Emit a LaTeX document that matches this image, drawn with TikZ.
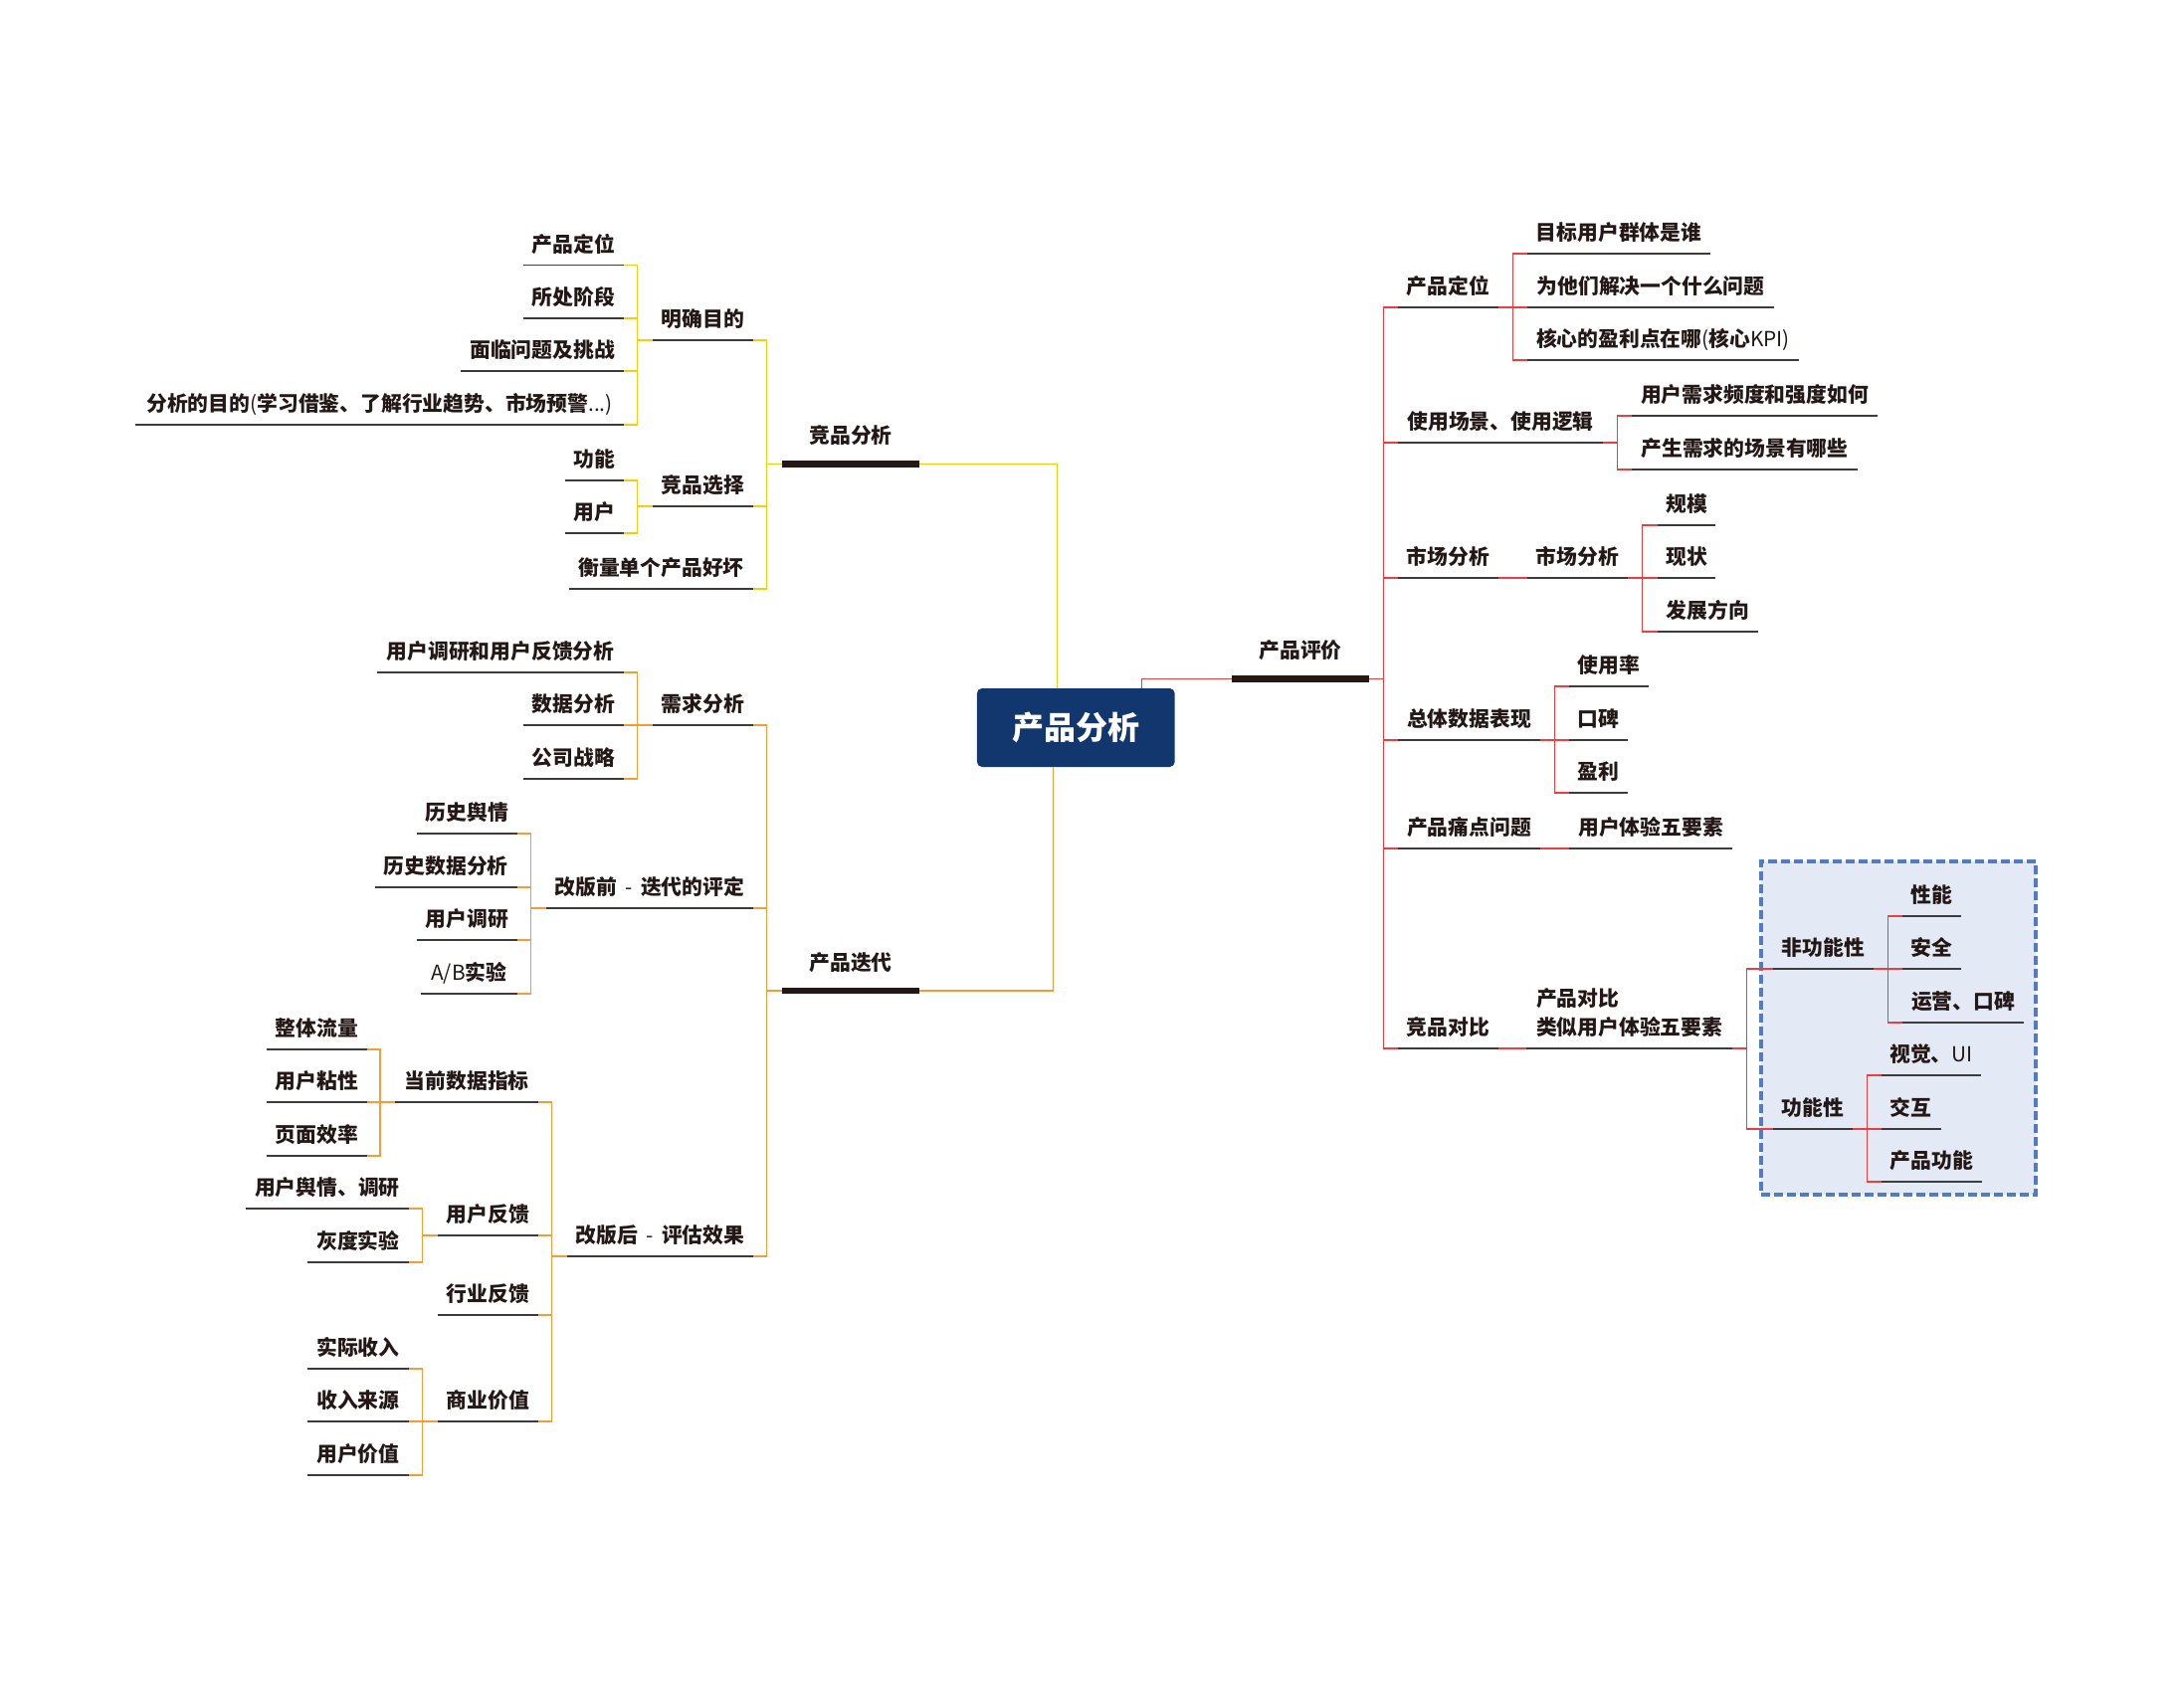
\documentclass[tikz,border=0pt]{standalone}
\usepackage{fontspec}
\setmainfont{Noto Sans CJK SC}
\definecolor{yl}{HTML}{F3CD12}
\definecolor{orc}{HTML}{F39C3A}
\definecolor{rdc}{HTML}{E8403F}
\definecolor{ulc}{HTML}{3C3C3C}
\definecolor{barc}{HTML}{231815}
\definecolor{navy}{HTML}{12376F}
\definecolor{boxfill}{HTML}{E3EAF6}
\definecolor{boxdraw}{HTML}{4F7CC3}
\definecolor{txt}{HTML}{231815}
\newcommand\tp[6][topic]{%
  \node[#1,minimum width={(#4-#3)*0.5pt}] (#2) at ({(#3+#4)/2},#5) {#6};}
\newcommand\lc[3]{\draw[#1] (#2.south east) -| ([xshift=-7.5pt]#3.south west) -- (#3.south west);}
\newcommand\rc[3]{\draw[#1] (#2.south east) -- ([xshift=7pt]#2.south east) |- (#3.south west);}
\newcommand\lt[1]{{\mdseries #1}}
\newcommand\dsh{\hspace{0.4em}\lt{-}\hspace{0.4em}}
\begin{document}
\begin{tikzpicture}[x=0.5pt,y=-0.5pt,
  topic/.style={anchor=south, inner sep=0pt, text height=9.5pt, text depth=6.4pt,
    font=\fontsize{10.4pt}{12pt}\selectfont\bfseries, text=txt,
    append after command={(\tikzlastnode.south west) edge[ul] (\tikzlastnode.south east)}},
  bartopic/.style={anchor=south, inner sep=0pt, text height=9.5pt, text depth=10.2pt,
    font=\fontsize{10.4pt}{12pt}\selectfont\bfseries, text=txt,
    append after command={(\tikzlastnode.south west) edge[barline] (\tikzlastnode.south east)}},
  ul/.style={draw=ulc, line width=0.75pt},
  barline/.style={draw=barc, line width=3.35pt},
  cy/.style={draw=yl, line width=0.75pt},
  co/.style={draw=orc, line width=0.75pt},
  cr/.style={draw=rdc, line width=0.75pt},
  rootbox/.style={fill=navy, rounded corners=2.5pt, minimum width=99.35pt, minimum height=39.5pt,
    inner sep=0pt, text=white, font=\fontsize{16pt}{18pt}\selectfont\bfseries},
  groupbox/.style={draw=boxdraw, fill=boxfill, line width=1.6pt, dash pattern=on 4.5pt off 2pt,
    minimum width=138pt, minimum height=167.5pt, inner sep=0pt}
]
\fill[white] (0,0) rectangle (2195,1700);
\useasboundingbox (0,0) rectangle (2195,1700);

\node[groupbox] (grp) at (1908,1033.5) {};

\node[rootbox] (root) at (1081.3,731.5) {产品分析};

% ---- 竞品分析 (left top)
\tp[bartopic]{jp}{786}{924}{466.5}{竞品分析}
\tp{mq}{656}{757}{342}{明确目的}
\tp{a1}{526}{627}{266.3}{产品定位}
\tp{a2}{526}{627}{320}{所处阶段}
\tp{a3}{463}{627}{373}{面临问题及挑战}
\tp{a4}{136}{627}{427}{分析的目的\lt{(}学习借鉴、了解行业趋势、市场预警\lt{...)}}
\tp{jx}{656}{757}{509}{竞品选择}
\tp{b1}{568}{627}{483}{功能}
\tp{b2}{568}{627}{536}{用户}
\tp{hl}{572}{757}{592}{衡量单个产品好坏}

% ---- 产品迭代 (left bottom)
\tp[bartopic]{cd}{786}{924}{996}{产品迭代}
\tp{xq}{656}{757}{729}{需求分析}
\tp{c1}{379}{627}{676}{用户调研和用户反馈分析}
\tp{c2}{526}{627}{729}{数据分析}
\tp{c3}{526}{627}{783}{公司战略}
\tp{gq}{549}{757}{913}{改版前\dsh 迭代的评定}
\tp{d1}{419}{519.5}{838}{历史舆情}
\tp{d2}{377}{519.5}{892}{历史数据分析}
\tp{d3}{419}{519.5}{945}{用户调研}
\tp{d4}{423}{519.5}{999}{\lt{A/B}实验}
\tp{gh}{570}{757}{1263}{改版后\dsh 评估效果}
\tp{e1}{397.6}{541}{1108}{当前数据指标}
\tp{f1}{268}{368.5}{1055}{整体流量}
\tp{f2}{268}{368.5}{1108}{用户粘性}
\tp{f3}{268}{368.5}{1162}{页面效率}
\tp{e2}{440}{541}{1242}{用户反馈}
\tp{g1}{247}{410.6}{1215}{用户舆情、调研}
\tp{g2}{309}{410.6}{1269}{灰度实验}
\tp{e3}{440}{541}{1322}{行业反馈}
\tp{e4}{440}{541}{1429}{商业价值}
\tp{h1}{309}{410.6}{1376}{实际收入}
\tp{h2}{309}{410.6}{1429}{收入来源}
\tp{h3}{309}{410.6}{1483}{用户价值}

% ---- 产品评价 (right)
\tp[bartopic]{pj}{1238}{1376}{682.3}{产品评价}
\tp{r1}{1405}{1506}{309}{产品定位}
\tp{r11}{1535}{1719}{255}{目标用户群体是谁}
\tp{r12}{1535}{1783}{309}{为他们解决一个什么问题}
\tp{r13}{1535}{1808}{362}{核心的盈利点在哪\lt{(}核心\lt{KPI)}}
\tp{r2}{1405}{1611}{445}{使用场景、使用逻辑}
\tp{r21}{1640}{1887}{418}{用户需求频度和强度如何}
\tp{r22}{1640}{1867}{472}{产生需求的场景有哪些}
\tp{r3}{1405}{1506}{581}{市场分析}
\tp{r31}{1535}{1636}{581}{市场分析}
\tp{r311}{1666}{1724}{528}{规模}
\tp{r312}{1666}{1724}{581}{现状}
\tp{r313}{1666}{1767}{635}{发展方向}
\tp{r4}{1405}{1548}{744}{总体数据表现}
\tp{r41}{1577}{1657}{690}{使用率}
\tp{r42}{1577}{1636}{744}{口碑}
\tp{r43}{1577}{1636}{797}{盈利}
\tp{r5}{1405}{1548}{853}{产品痛点问题}
\tp{r51}{1577}{1741}{853}{用户体验五要素}
\tp{r6}{1405}{1506}{1054}{竞品对比}
\tp{r61}{1534.5}{1741}{1054}{\vbox{\baselineskip=14.5pt\hbox{产品对比}\hbox{类似用户体验五要素}}}
\tp{s1}{1782}{1883}{974}{非功能性}
\tp{s11}{1912}{1971}{921}{性能}
\tp{s12}{1912}{1971}{974}{安全}
\tp{s13}{1912}{2034}{1028}{运营、口碑}
\tp{s2}{1782}{1862}{1135}{功能性}
\tp{s21}{1891}{1991}{1081}{视觉、\lt{UI}}
\tp{s22}{1891}{1950.5}{1135}{交互}
\tp{s23}{1891}{1992}{1188}{产品功能}

% ---- root connectors
\draw[cy] ([xshift=-9.35pt]root.north) |- (jp.south east);
\draw[co] ([xshift=-11.35pt]root.south) |- (cd.south east);
\draw[cr] ([xshift=33.15pt]root.north) |- (pj.south west);

% ---- left yellow
\lc{cy}{mq}{jp}\lc{cy}{jx}{jp}\lc{cy}{hl}{jp}
\lc{cy}{a1}{mq}\lc{cy}{a2}{mq}\lc{cy}{a3}{mq}\lc{cy}{a4}{mq}
\lc{cy}{b1}{jx}\lc{cy}{b2}{jx}

% ---- left orange
\lc{co}{xq}{cd}\lc{co}{gq}{cd}\lc{co}{gh}{cd}
\lc{co}{c1}{xq}\lc{co}{c2}{xq}\lc{co}{c3}{xq}
\lc{co}{d1}{gq}\lc{co}{d2}{gq}\lc{co}{d3}{gq}\lc{co}{d4}{gq}
\lc{co}{e1}{gh}\lc{co}{e2}{gh}\lc{co}{e3}{gh}\lc{co}{e4}{gh}
\lc{co}{f1}{e1}\lc{co}{f2}{e1}\lc{co}{f3}{e1}
\lc{co}{g1}{e2}\lc{co}{g2}{e2}
\lc{co}{h1}{e4}\lc{co}{h2}{e4}\lc{co}{h3}{e4}

% ---- right red
\rc{cr}{pj}{r1}\rc{cr}{pj}{r2}\rc{cr}{pj}{r3}\rc{cr}{pj}{r4}\rc{cr}{pj}{r5}\rc{cr}{pj}{r6}
\rc{cr}{r1}{r11}\rc{cr}{r1}{r12}\rc{cr}{r1}{r13}
\rc{cr}{r2}{r21}\rc{cr}{r2}{r22}
\rc{cr}{r3}{r31}
\rc{cr}{r31}{r311}\rc{cr}{r31}{r312}\rc{cr}{r31}{r313}
\rc{cr}{r4}{r41}\rc{cr}{r4}{r42}\rc{cr}{r4}{r43}
\rc{cr}{r5}{r51}
\rc{cr}{r6}{r61}
\rc{cr}{r61}{s1}\rc{cr}{r61}{s2}
\rc{cr}{s1}{s11}\rc{cr}{s1}{s12}\rc{cr}{s1}{s13}
\rc{cr}{s2}{s21}\rc{cr}{s2}{s22}\rc{cr}{s2}{s23}
\end{tikzpicture}
\end{document}
